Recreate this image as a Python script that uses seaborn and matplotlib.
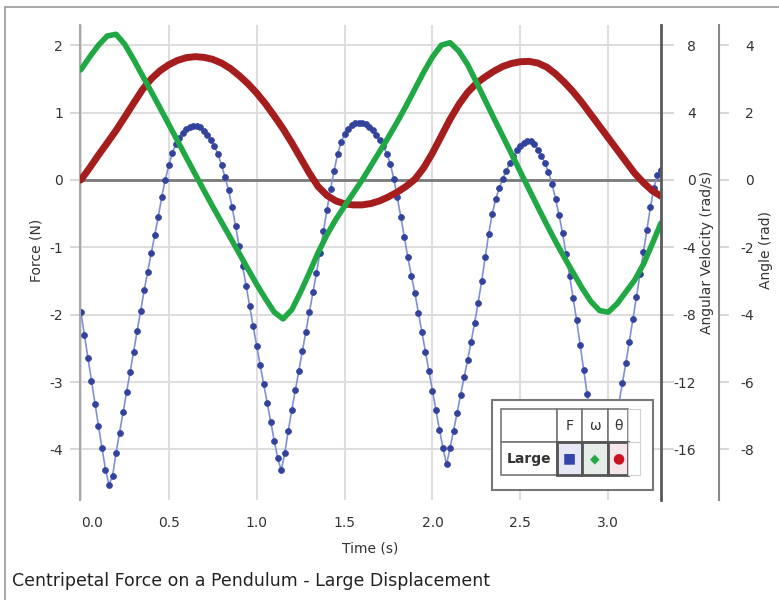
import numpy as np
import matplotlib
matplotlib.use("Agg")
import matplotlib.pyplot as plt
import matplotlib.patches as mpatches
from matplotlib.lines import Line2D
import seaborn as sns

# -----------------------------
# Data
# -----------------------------
# centripetal force (N), sampled every 0.02 s
force_dt = 0.02
force = [
    -1.96, -2.30, -2.64, -2.98, -3.32, -3.65, -3.98, -4.30, -4.52, -4.40,
    -4.05, -3.75, -3.45, -3.15, -2.85, -2.55, -2.24, -1.94, -1.64, -1.36,
    -1.09, -0.82, -0.55, -0.25, 0.00, 0.22, 0.40, 0.53, 0.63, 0.70,
    0.75, 0.78, 0.80, 0.80, 0.78, 0.73, 0.67, 0.59, 0.50, 0.38,
    0.22, 0.04, -0.15, -0.40, -0.68, -0.98, -1.28, -1.57, -1.87, -2.17,
    -2.46, -2.75, -3.03, -3.31, -3.59, -3.87, -4.13, -4.31, -4.05, -3.72,
    -3.41, -3.12, -2.83, -2.54, -2.25, -1.96, -1.67, -1.38, -1.08, -0.76,
    -0.44, -0.14, 0.13, 0.38, 0.56, 0.68, 0.76, 0.81, 0.84, 0.85,
    0.85, 0.83, 0.79, 0.74, 0.67, 0.59, 0.50, 0.39, 0.24, 0.02,
    -0.26, -0.55, -0.85, -1.15, -1.42, -1.68, -1.97, -2.26, -2.55, -2.84,
    -3.13, -3.42, -3.71, -3.98, -4.22, -3.98, -3.72, -3.46, -3.19, -2.93,
    -2.67, -2.40, -2.12, -1.82, -1.50, -1.15, -0.80, -0.50, -0.28, -0.12,
    0.02, 0.14, 0.25, 0.35, 0.44, 0.51, 0.55, 0.58, 0.58, 0.53,
    0.45, 0.36, 0.25, 0.12, -0.06, -0.28, -0.52, -0.79, -1.10, -1.42,
    -1.75, -2.08, -2.45, -2.82, -3.18, -3.50, -3.80, -4.05, -4.25, -4.32,
    -4.18, -3.92, -3.62, -3.32, -3.02, -2.72, -2.40, -2.07, -1.74, -1.40,
    -1.07, -0.74, -0.40, -0.12, 0.08, 0.15,
]

# angular velocity (rad/s) and angle (rad), sampled every 0.05 s
line_dt = 0.05
omega = [
    6.54, 7.30, 8.00, 8.55, 8.65, 8.05, 7.15, 6.20, 5.25, 4.28,
    3.30, 2.32, 1.33, 0.35, -0.62, -1.58, -2.50, -3.42, -4.35, -5.28,
    -6.20, -7.05, -7.85, -8.25, -7.70, -6.65, -5.50, -4.30, -3.25, -2.35,
    -1.55, -0.78, 0.00, 0.85, 1.70, 2.55, 3.45, 4.40, 5.40, 6.40,
    7.30, 8.00, 8.15, 7.65, 6.85, 5.80, 4.72, 3.65, 2.60, 1.55,
    0.48, -0.57, -1.62, -2.65, -3.65, -4.60, -5.50, -6.40, -7.20, -7.75,
    -7.85, -7.35, -6.65, -5.95, -5.00, -3.80, -2.55,
]
theta = [
    0.00, 0.36, 0.74, 1.10, 1.47, 1.87, 2.28, 2.68, 3.00, 3.24,
    3.42, 3.55, 3.63, 3.66, 3.64, 3.58, 3.47, 3.31, 3.10, 2.86,
    2.58, 2.26, 1.90, 1.52, 1.10, 0.65, 0.20, -0.20, -0.46, -0.62,
    -0.71, -0.74, -0.74, -0.70, -0.62, -0.50, -0.36, -0.19, 0.02, 0.36,
    0.80, 1.30, 1.80, 2.24, 2.60, 2.87, 3.06, 3.23, 3.37, 3.46,
    3.51, 3.52, 3.47, 3.35, 3.15, 2.90, 2.62, 2.30, 1.95, 1.60,
    1.25, 0.90, 0.55, 0.20, -0.08, -0.32, -0.48,
]

time_ticks = [0.0, 0.5, 1.0, 1.5, 2.0, 2.5, 3.0]
force_ticks = [-4, -3, -2, -1, 0, 1, 2]
omega_ticks = [-16, -12, -8, -4, 0, 4, 8]
theta_ticks = [-8, -6, -4, -2, 0, 2, 4]

t_force = np.arange(len(force)) * force_dt
t_line = np.arange(len(omega)) * line_dt

# -----------------------------
# Figure
# -----------------------------
sns.set_style("white")
plt.rcParams["font.family"] = ["DejaVu Sans"]
plt.rcParams["axes.unicode_minus"] = False

W, H = 779, 600
fig = plt.figure(figsize=(W / 100, H / 100), dpi=100)
ax = fig.add_axes([80 / W, 100 / H, 581 / W, 475 / H])
ax_th = ax.twinx()
ax_w = ax.twinx()

sns.lineplot(x=t_force, y=force, ax=ax, color="#8090d8", linewidth=1.2,
             marker="o", markersize=4.3, markerfacecolor="#33439b",
             markeredgecolor="#33439b", markeredgewidth=0.5, legend=False)
sns.lineplot(x=t_line, y=theta, ax=ax_th, color="#a51d1d", linewidth=5,
             legend=False)
sns.lineplot(x=t_line, y=omega, ax=ax_w, color="#1fa843", linewidth=4,
             legend=False)

ax.axhline(0, color="#7a7a7a", lw=2, zorder=1.5)
ax.grid(True, color="#dedede", lw=1.5)
ax.set_axisbelow(True)

ax.set_xlim(-0.005, 3.30)
ax.set_ylim(-4.75, 2.30)
ax_w.set_ylim(-19.0, 9.2)
ax_th.set_ylim(-9.5, 4.6)

ax.set_xticks(time_ticks)
ax.set_xticklabels([f"{v:.1f}" for v in time_ticks])
ax.set_yticks(force_ticks)
ax_w.set_yticks(omega_ticks)
ax_th.set_yticks(theta_ticks)

for a in (ax, ax_th, ax_w):
    a.spines["top"].set_visible(False)
    a.spines["bottom"].set_visible(False)
    a.set_xlabel("")
    a.set_ylabel("")
ax.spines["right"].set_visible(False)
ax.spines["left"].set_color("#a8a8a8")
ax.spines["left"].set_linewidth(1.5)
for a in (ax_th, ax_w):
    a.spines["left"].set_visible(False)
ax_w.spines["right"].set_color("#5a5a5a")
ax_w.spines["right"].set_linewidth(2)
ax_th.spines["right"].set_position(("axes", 1 + 58 / 581))
ax_th.spines["right"].set_color("#8a8a8a")
ax_th.spines["right"].set_linewidth(1.5)

tick_kw = dict(width=1.5, color="#d8d8d8", labelsize=10, labelcolor="#333333")
ax.tick_params(axis="y", left=True, length=7.2, pad=5, **tick_kw)
ax.tick_params(axis="x", bottom=True, length=0, pad=11.5, labelsize=10,
               labelcolor="#333333")
ax_w.tick_params(axis="y", right=True, length=9.4, pad=15.8, **tick_kw)
ax_th.tick_params(axis="y", right=True, length=7.2, pad=18.0, **tick_kw)
plt.setp(ax_w.get_yticklabels(), ha="right")
plt.setp(ax_th.get_yticklabels(), ha="right")
ax.get_xticklabels()[0].set_ha("left")

# axis labels and caption
fig.text(36 / W, 1 - 250 / H, "Force (N)", rotation=90, ha="center",
         va="center", fontsize=10, color="#333333")
fig.text(707 / W, 1 - 252 / H, "Angular Velocity (rad/s)", rotation=90,
         ha="center", va="center", fontsize=10, color="#333333")
fig.text(766 / W, 1 - 250 / H, "Angle (rad)", rotation=90, ha="center",
         va="center", fontsize=10, color="#333333")
fig.text(370 / W, 1 - 548 / H, "Time (s)", ha="center", va="center",
         fontsize=10, color="#333333")
fig.text(12 / W, 1 - 581 / H,
         "Centripetal Force on a Pendulum - Large Displacement",
         ha="left", va="center", fontsize=12.5, color="#222222")

# outer frame (top and left edges visible)
fig.add_artist(Line2D([5 / W, 1.0], [1 - 7 / H, 1 - 7 / H],
                      transform=fig.transFigure, color="#9a9a9a", lw=1.2))
fig.add_artist(Line2D([5 / W, 5 / W], [0.0, 1 - 7 / H],
                      transform=fig.transFigure, color="#9a9a9a", lw=1.2))

# legend drawn as a small table
frame = mpatches.Rectangle((0.7087, 0.0211), 0.277, 0.1895,
                           transform=ax_w.transAxes, facecolor="white",
                           edgecolor="#777777", lw=1.5, zorder=20,
                           clip_on=False)
ax_w.add_patch(frame)
cell_text = [["", "F", "ω", "θ", ""],
             ["Large", "■", "◆", "●", ""]]
cell_colours = [["white", "white", "white", "white", "white"],
                ["white", "#e6e6f4", "#e6ece8", "#f6e6ea", "white"]]
tbl = ax_w.table(cellText=cell_text, cellColours=cell_colours,
                 cellLoc="center",
                 colWidths=[0.406, 0.175, 0.187, 0.148, 0.084],
                 bbox=[0.7241, 0.0526, 0.2398, 0.1383])
tbl.auto_set_font_size(False)
tbl.set_fontsize(10)
tbl.set_zorder(21)
glyph_colours = {1: "#3344aa", 2: "#22aa44", 3: "#cc1122"}
for (r, c), cell in tbl.get_celld().items():
    cell.set_edgecolor("#777777")
    cell.set_linewidth(1.2)
    cell.get_text().set_color("#333333")
    if c == 4:
        cell.set_edgecolor("#d0d0d0")
        cell.set_linewidth(0.8)
    if r == 1 and c in glyph_colours:
        cell.set_edgecolor("#555555")
        cell.set_linewidth(2)
        cell.get_text().set_color(glyph_colours[c])
        cell.get_text().set_fontsize(9 if c == 2 else 10)
    if r == 1 and c == 0:
        cell.get_text().set_fontweight("bold")

fig.savefig("out.png", dpi=100)
